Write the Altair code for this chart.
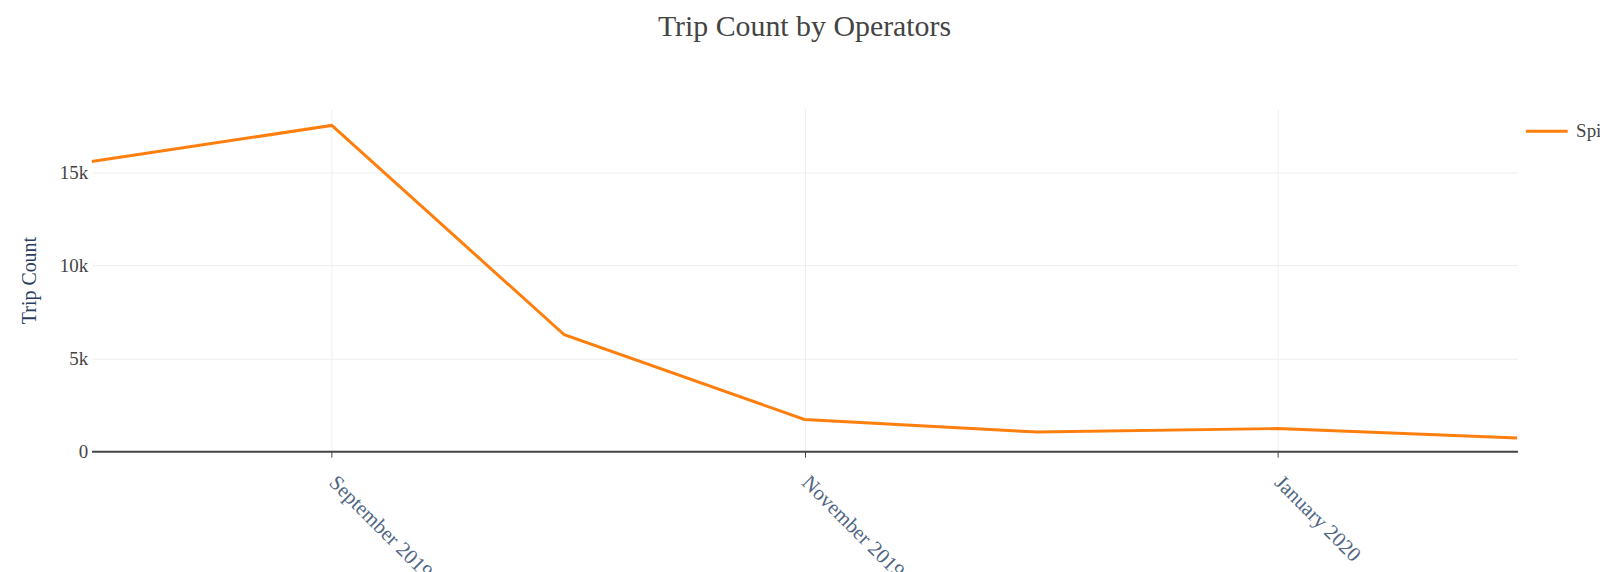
import altair as alt
import pandas as pd

# ---- data ----
months = ["2019-08-01", "2019-09-01", "2019-10-01", "2019-11-01",
          "2019-12-01", "2020-01-01", "2020-02-01"]
trip_counts = [15600, 17540, 6270, 1710, 1030, 1220, 710]
operators = ["Spin"] * len(months)
x_tick_dates = ["2019-09-01", "2019-11-01", "2020-01-01"]
y_tick_values = [0, 5000, 10000, 15000]

df = pd.DataFrame({"month": months, "trips": trip_counts, "operator": operators})

FONT = "Liberation Serif"


def dt(s):
    y, m, d = map(int, s.split("-"))
    return alt.DateTime(year=y, month=m, date=d, utc=True)


x_axis = alt.Axis(
    title=None,
    values=[dt(s) for s in x_tick_dates],
    labelExpr="utcFormat(datum.value, '%B %Y')",
    labelAngle=45,
    labelAlign="left",
    labelBaseline="middle",
    labelFont=FONT,
    labelFontSize=21,
    labelColor="#506784",
    labelPadding=22,
    tickColor="#444444",
    tickSize=6,
    tickWidth=1,
    domainColor="#444444",
    domainWidth=2,
    grid=True,
    gridColor="#eeeeee",
    gridWidth=1,
    labelOverlap=False,
)

y_axis = alt.Axis(
    title="Trip Count",
    values=y_tick_values,
    labelExpr="datum.value === 0 ? '0' : (datum.value / 1000) + 'k'",
    labelFont=FONT,
    labelFontSize=19,
    labelColor="#444444",
    labelPadding=4,
    ticks=False,
    domain=False,
    grid=True,
    gridColor="#eeeeee",
    gridWidth=1,
    titleFont=FONT,
    titleFontSize=20,
    titleFontWeight="normal",
    titleColor="#2a3f5f",
    titlePadding=20,
)

legend = alt.Legend(
    title=None,
    orient="none",
    legendX=1440,
    legendY=0,
    symbolType="stroke",
    symbolSize=1764,
    symbolStrokeWidth=3,
    labelFont=FONT,
    labelFontSize=19,
    labelColor="#444444",
    labelOffset=7,
    padding=0,
)

chart = (
    alt.Chart(df)
    .mark_line(strokeWidth=3, clip=True)
    .encode(
        x=alt.X(
            "month:T",
            scale=alt.Scale(type="utc", domain=[dt(months[0]), dt(months[-1])]),
            axis=x_axis,
        ),
        y=alt.Y(
            "trips:Q",
            scale=alt.Scale(domain=[0, 18430], nice=False),
            axis=y_axis,
        ),
        color=alt.Color(
            "operator:N",
            scale=alt.Scale(range=["#ff7f0e"]),
            legend=legend,
        ),
    )
    .properties(
        width=1433,
        height=344,
        title=alt.TitleParams(
            "Trip Count by Operators",
            font=FONT,
            fontSize=30,
            fontWeight="normal",
            color="#444444",
            anchor="middle",
            offset=67,
        ),
        autosize=alt.AutoSizeParams(type="none"),
        padding={"left": 84, "top": 100, "right": 83, "bottom": 124},
        background="white",
    )
    .configure_view(stroke=None)
)

chart.save("out.html", embed_options={"renderer": "svg", "actions": False})
